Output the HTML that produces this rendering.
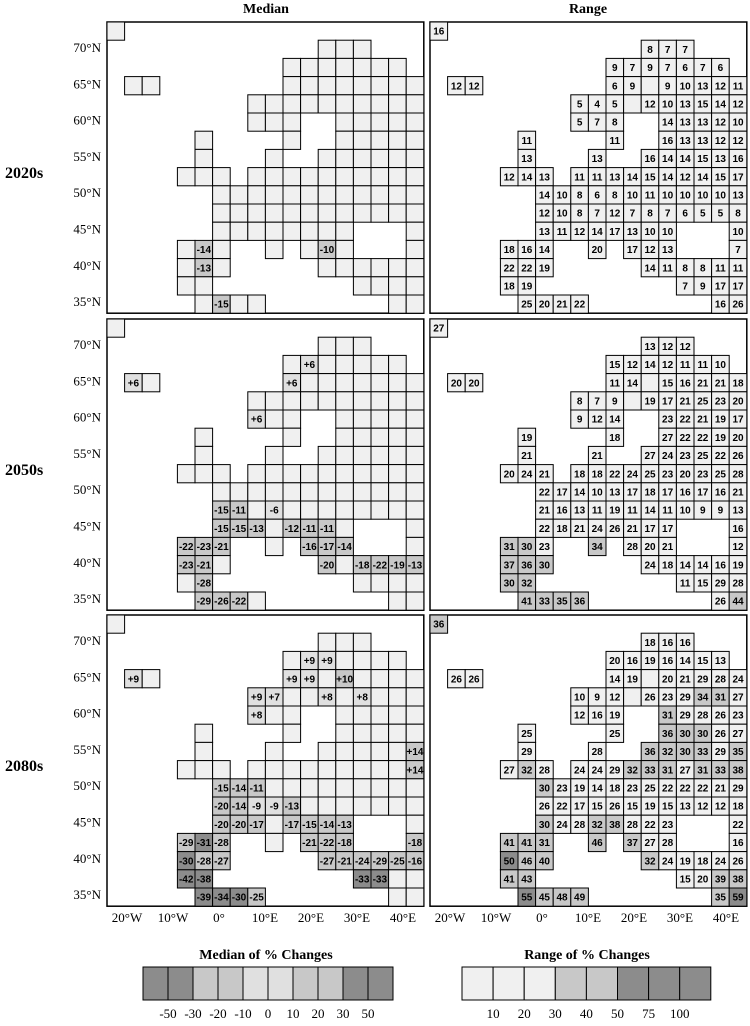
<!DOCTYPE html>
<html><head><meta charset="utf-8">
<style>
body{margin:0;background:#fff;}
svg{display:block;font-family:"Liberation Serif",serif;}
.cell text{font-family:"Liberation Sans",sans-serif;font-weight:bold;font-size:10px;}
</style></head>
<body>
<svg id="chart" width="750" height="1026" viewBox="0 0 750 1026" xmlns="http://www.w3.org/2000/svg">
<rect x="0" y="0" width="750" height="1026" fill="#fff"/>
<text x="266" y="13" font-size="14" font-weight="bold" text-anchor="middle">Median</text>
<text x="588" y="13" font-size="14" font-weight="bold" text-anchor="middle">Range</text>
<g id="panels"></g>
<g id="legend"></g>
</svg>
<script>
// grid categories (rows from north to south, columns west to east)
const maskRows = [
 [0],[12,13,14],[10,11,12,13,14,15,16],[1,2,10,11,12,13,14,15,16,17],
 [8,9,10,11,12,13,14,15,16,17],[8,9,10,13,14,15,16,17],[5,10,13,14,15,16,17],
 [5,9,12,13,14,15,16,17],[4,5,6,8,9,10,11,12,13,14,15,16,17],
 [6,7,8,9,10,11,12,13,14,15,16,17],[6,7,8,9,10,11,12,13,14,15,16,17],
 [6,7,8,9,10,11,12,13,17],[4,5,6,9,11,12,13,17],[4,5,6,12,13,14,15,16,17],
 [4,5,14,15,16,17],[5,6,7,8,16,17]
];
const periods = ["2020s","2050s","2080s"];
const latTicks = ["70°N","65°N","60°N","55°N","50°N","45°N","40°N","35°N"];
const lonTicks = ["20°W","10°W","0°","10°E","20°E","30°E","40°E"];
const medianLegendLabels = ["-50","-30","-20","-10","0","10","20","30","50"];
const rangeLegendLabels = ["10","20","30","40","50","75","100"];
const medianLegendBins = [-60,-40,-25,-15,-5,5,15,25,40,60];
const rangeLegendBins = [5,15,25,35,45,60,85,110];

// range values, aligned with maskRows (null = blank)
const range2020 = [[16],[8,7,7],[9,7,9,7,6,7,6],[12,12,6,9,null,9,10,13,12,11],[5,4,5,null,12,10,13,15,14,12],[5,7,8,14,13,13,12,10],[11,11,16,13,13,12,12],[13,13,16,14,14,15,13,16],[12,14,13,11,11,13,14,15,14,12,14,15,17],[14,10,8,6,8,10,11,10,10,10,10,13],[12,10,8,7,12,7,8,7,6,5,5,8],[13,11,12,14,17,13,10,10,10],[18,16,14,20,17,12,13,7],[22,22,19,14,11,8,8,11,11],[18,19,7,9,17,17],[25,20,21,22,16,26]];
const range2050 = [[27],[13,12,12],[15,12,14,12,11,11,10],[20,20,11,14,null,15,16,21,21,18],[8,7,9,null,19,17,21,25,23,20],[9,12,14,23,22,21,19,17],[19,18,27,22,22,19,20],[21,21,27,24,23,25,22,26],[20,24,21,18,18,22,24,25,23,20,23,25,28],[22,17,14,10,13,17,18,17,16,17,16,21],[21,16,13,11,19,11,14,11,10,9,9,13],[22,18,21,24,26,21,17,17,16],[31,30,23,34,28,20,21,12],[37,36,30,24,18,14,14,16,19],[30,32,11,15,29,28],[41,33,35,36,26,44]];
const range2080 = [[36],[18,16,16],[20,16,19,16,14,15,13],[26,26,14,19,null,20,21,29,28,24],[10,9,12,null,26,23,29,34,31,27],[12,16,19,31,29,28,26,23],[25,25,36,30,30,26,27],[29,28,36,32,30,33,29,35],[27,32,28,24,24,29,32,33,31,27,31,33,38],[30,23,19,14,18,23,25,22,22,22,21,29],[26,22,17,15,26,15,19,15,13,12,12,18],[30,24,28,32,38,28,22,23,22],[41,41,31,46,37,27,28,16],[50,46,40,32,24,19,18,24,26],[41,43,15,20,39,38],[55,45,48,49,35,59]];

// median values: [row, col, value] (other cells blank)
const median2020 = [[12,5,-14],[13,5,-13],[15,6,-15],[12,12,-10]];
const median2050 = [[2,11,6],[3,1,6],[3,10,6],[5,8,6],[10,6,-15],[10,7,-11],[10,9,-6],[11,6,-15],[11,7,-15],[11,8,-13],[11,10,-12],[11,11,-11],[11,12,-11],[12,4,-22],[12,5,-23],[12,6,-21],[12,11,-16],[12,12,-17],[12,13,-14],[13,4,-23],[13,5,-21],[13,12,-20],[13,14,-18],[13,15,-22],[13,16,-19],[13,17,-13],[14,5,-28],[15,5,-29],[15,6,-26],[15,7,-22]];
const median2080 = [[2,11,9],[2,12,9],[3,1,9],[3,10,9],[3,11,9],[3,13,10],[4,8,9],[4,9,7],[4,12,8],[4,14,8],[5,8,8],[7,17,14],[8,17,14],[9,6,-15],[9,7,-14],[9,8,-11],[10,6,-20],[10,7,-14],[10,8,-9],[10,9,-9],[10,10,-13],[11,6,-20],[11,7,-20],[11,8,-17],[11,10,-17],[11,11,-15],[11,12,-14],[11,13,-13],[12,4,-29],[12,5,-31],[12,6,-28],[12,11,-21],[12,12,-22],[12,13,-18],[12,17,-18],[13,4,-30],[13,5,-28],[13,6,-27],[13,12,-27],[13,13,-21],[13,14,-24],[13,15,-29],[13,16,-25],[13,17,-16],[14,4,-42],[14,5,-38],[14,14,-33],[14,15,-33],[15,5,-39],[15,6,-34],[15,7,-30],[15,8,-25]];

const medians = [median2020, median2050, median2080];
const ranges = [range2020, range2050, range2080];

const NS = "http://www.w3.org/2000/svg";
const CW = 17.6, CH = 18.2, NCOL = 18, NROW = 16;
const panelX = [107, 430];
const panelY = [22, 319, 615];
function colX(px, c){ return px + c*CW; }
function rowY(py, r){ return py + r*CH; }
function medianFill(v){ if(v===null||v===undefined) return "#f0f0f0"; const a=Math.abs(v); if(a>=30) return "#8c8c8c"; if(a>=10) return "#c8c8c8"; if(a>=5) return "#e0e0e0"; return "#f0f0f0"; }
function rangeFill(v){ if(v===null||v===undefined) return "#f0f0f0"; if(v>=50) return "#8c8c8c"; if(v>=30) return "#c8c8c8"; return "#f0f0f0"; }
function mk(tag, attrs, parent){ const e=document.createElementNS(NS,tag); for(const k in attrs) e.setAttribute(k,attrs[k]); parent.appendChild(e); return e; }

const panels = document.getElementById("panels");
for(let p=0;p<3;p++){
  const py = panelY[p];
  const lbl = mk("text",{x:5,y:py+156,"font-size":"16","font-weight":"bold"},panels);
  lbl.textContent = periods[p];
  
  
  latTicks.forEach((t,i)=>{
    const tt = mk("text",{x:101,y:py+30+i*36.3,"font-size":"13","text-anchor":"end"},panels);
    tt.textContent = t;
    
    
  });
  for(let k=0;k<2;k++){
    const px = panelX[k];
    const g = mk("g",{},panels);
    
    
    mk("rect",{x:px,y:py,width:NCOL*CW,height:NROW*CH,fill:"#fff",stroke:"#000","stroke-width":1.5},g);
    // lookup for median
    const mmap = {};
    if(k===0) medians[p].forEach(d=>{ mmap[d[0]+","+d[1]] = d[2]; });
    maskRows.forEach((cols,r)=>{
      cols.forEach((c,i)=>{
        const v = k===0 ? mmap[r+","+c] : ranges[p][r][i];
        const cg = mk("g",{class:"cell"},g);
        
        
        const x = colX(px,c), y = rowY(py,r);
        mk("rect",{x:x,y:y,width:CW,height:CH,fill:k===0?medianFill(v):rangeFill(v),stroke:"#000","stroke-width":1},cg);
        if(v!==null && v!==undefined){
          const t = mk("text",{x:x+CW/2,y:y+CH/2+3.6,"text-anchor":"middle"},cg);
          t.textContent = (k===0 && v>0 ? "+" : "") + v;
        }
      });
    });
  }
}
// longitude ticks
[107,430].forEach((px,k)=>{
  lonTicks.forEach((t,i)=>{
    const tt = mk("text",{x:px+20+i*46,y:922,"font-size":"13","text-anchor":"middle"},panels);
    tt.textContent = t;
    
    
  });
});

// legends
const leg = document.getElementById("legend");
function legend(x0, w, bins, labels, fillFn, title, cx, name){
  const g = mk("g",{},leg);
  
  
  const tt = mk("text",{x:cx,y:959,"font-size":"14","font-weight":"bold","text-anchor":"middle"},g);
  tt.textContent = title;
  bins.forEach((b,i)=>{
    const r = mk("rect",{x:x0+i*w,y:967,width:w,height:33,fill:fillFn(b),stroke:"#000","stroke-width":1},g);
    
    
  });
  labels.forEach((l,i)=>{
    const t = mk("text",{x:x0+(i+1)*w,y:1018,"font-size":"13","text-anchor":"middle"},g);
    t.textContent = l;
  });
}
legend(143, 25, medianLegendBins, medianLegendLabels, medianFill, "Median of % Changes", 266, "median-legend");
legend(462, 31.1, rangeLegendBins, rangeLegendLabels, rangeFill, "Range of % Changes", 587, "range-legend");
</script>
</body></html>
